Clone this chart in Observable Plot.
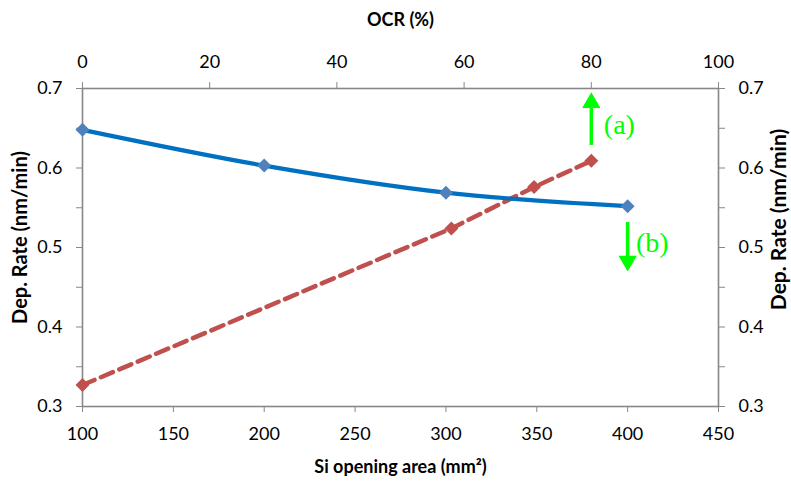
<!DOCTYPE html>
<html><head><meta charset="utf-8">
<script src="https://cdn.jsdelivr.net/npm/d3@7"></script>
<script src="https://cdn.jsdelivr.net/npm/@observablehq/plot@0.6"></script>
<style>body{margin:0;background:#fff}#chart svg{display:block}</style>
</head><body><div id="chart"></div>
<script>
// Series (b): deposition rate vs Si opening area (bottom axis)
const areaX = [100, 200, 300, 400];
const areaRate = [0.648, 0.603, 0.569, 0.552];
// Series (a): deposition rate vs OCR (top axis)
const ocrX = [0, 58, 71, 80];
const ocrRate = [0.327, 0.524, 0.576, 0.609];
// Axis ticks
const areaTicks = [100, 150, 200, 250, 300, 350, 400, 450];
const ocrTicks = [0, 20, 40, 60, 80, 100];
const rateTicks = [0.3, 0.35, 0.4, 0.45, 0.5, 0.55, 0.6, 0.65, 0.7];
// Annotation arrows: (a) on OCR axis, (b) on area axis
const annLabels = ["(a)", "(b)"];
const annOcr = [80, null];
const annArea = [null, 400];
const annFrom = [0.629, 0.532];
const annTo = [0.682, 0.483];
const annTextX = [386.9, 404.6];
const annTextY = [0.654, 0.506];

// the OCR axis spans the same width as the area axis: OCR 0..100 ↔ area 100..450
const ocrToArea = o => 100 + o * 3.5;

const seriesB = areaX.map((x, i) => ({x, y: areaRate[i]}));
const seriesA = ocrX.map((o, i) => ({x: ocrToArea(o), y: ocrRate[i]}));
const ann = annLabels.map((label, i) => ({
  label,
  x: annOcr[i] != null ? ocrToArea(annOcr[i]) : annArea[i],
  y1: annFrom[i], y2: annTo[i],
  up: annTo[i] > annFrom[i],
  tx: annTextX[i], ty: annTextY[i]
}));

const axisGray = "#878787";
const fmtRate = d => Math.abs(d * 10 - Math.round(d * 10)) < 1e-6 ? d.toFixed(1) : "";

const chart = Plot.plot({
  width: 791,
  height: 483,
  marginLeft: 82,
  marginRight: 73,
  marginTop: 88,
  marginBottom: 77,
  style: {fontFamily: "Lato, sans-serif", fontSize: "18px", color: "black", background: "white"},
  x: {domain: [100, 450]},
  y: {domain: [0.3, 0.7]},
  marks: [
    Plot.axisX({anchor: "bottom", ticks: areaTicks, tickSize: 6, tickPadding: 15, stroke: axisGray, fill: "black", label: null}),
    Plot.axisX({anchor: "top", ticks: ocrTicks.map(ocrToArea), tickFormat: d => String(Math.round((d - 100) / 3.5)), tickSize: 7, tickPadding: 14, stroke: axisGray, fill: "black", label: null}),
    Plot.axisY({anchor: "left", ticks: rateTicks, tickFormat: fmtRate, tickSize: 6, tickPadding: 14, stroke: axisGray, fill: "black", label: null}),
    Plot.axisY({anchor: "right", ticks: rateTicks, tickFormat: fmtRate, tickSize: 6, tickPadding: 14, stroke: axisGray, fill: "black", label: null}),
    Plot.frame({stroke: axisGray, strokeWidth: 1.6}),
    // series (a) red dashed
    Plot.line(seriesA, {x: "x", y: "y", stroke: "#C0504D", strokeWidth: 4.5, strokeDasharray: "13,7"}),
    Plot.dot(seriesA, {x: "x", y: "y", symbol: "diamond2", r: 6.3, fill: "#C0504D", stroke: "none"}),
    // series (b) blue smooth
    Plot.line(seriesB, {x: "x", y: "y", stroke: "#0070C0", strokeWidth: 4.2, curve: "catmull-rom"}),
    Plot.dot(seriesB, {x: "x", y: "y", symbol: "diamond2", r: 6.3, fill: "#4F81BD", stroke: "none"}),
    // annotation arrows
    Plot.link(ann, {x1: "x", x2: "x", y1: "y1", y2: "y2", stroke: "#00FF00", strokeWidth: 3.5}),
    Plot.dot(ann, {x: "x", y: "y2", symbol: "triangle", r: 6.8, fill: "#00FF00", stroke: "none", rotate: d => d.up ? 0 : 180}),
    Plot.text(ann, {x: "tx", y: "ty", text: "label", textAnchor: "start", lineAnchor: "middle", fill: "#00FF00", fontSize: 28, fontFamily: "Liberation Serif, serif"}),
    // axis titles
    Plot.text(["OCR (%)"], {frameAnchor: "top", dy: -68, text: d => d, fontWeight: "bold", fontSize: 18, textAnchor: "middle", lineAnchor: "middle"}),
    Plot.text(["Si opening area (mm²)"], {frameAnchor: "bottom", dy: 61, text: d => d, fontWeight: "bold", fontSize: 18, textAnchor: "middle", lineAnchor: "middle"}),
    Plot.text(["Dep. Rate (nm/min)"], {frameAnchor: "left", dx: -62, dy: -10, rotate: -90, text: d => d, fontWeight: "bold", fontSize: 20, textAnchor: "middle", lineAnchor: "middle"}),
    Plot.text(["Dep. Rate (nm/min)"], {frameAnchor: "right", dx: 61, dy: -28, rotate: -90, text: d => d, fontWeight: "bold", fontSize: 21, textAnchor: "middle", lineAnchor: "middle"})
  ]
});
document.getElementById("chart").appendChild(chart);
</script>
</body></html>
